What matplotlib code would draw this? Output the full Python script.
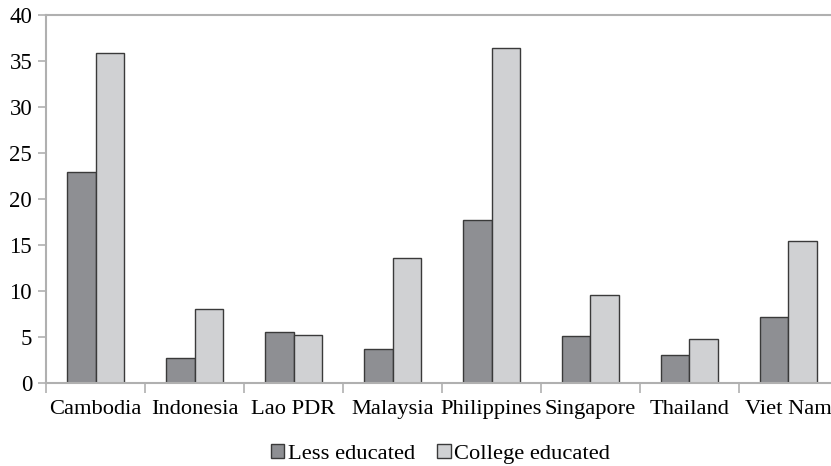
import numpy as np
import matplotlib.pyplot as plt

countries = ['Cambodia', 'Indonesia', 'Lao PDR', 'Malaysia', 'Philippines',
             'Singapore', 'Thailand', 'Viet Nam']
less_educated = [22.9, 2.75, 5.6, 3.7, 17.7, 5.1, 3.0, 7.2]
college_educated = [35.9, 8.1, 5.2, 13.6, 36.4, 9.6, 4.8, 15.4]

plt.rcParams['font.family'] = ['Liberation Serif', 'DejaVu Serif']

fig = plt.figure(figsize=(8.31, 4.66), dpi=100)
ax = fig.add_axes([0.0554, 0.178, 0.953, 0.79])

x = np.arange(len(countries))
w = 0.285
ax.bar(x - w / 2, less_educated, w, color='#8e8f93', edgecolor='#3a3a3a',
       linewidth=1, label='Less educated')
ax.bar(x + w / 2, college_educated, w, color='#d0d1d3', edgecolor='#3a3a3a',
       linewidth=1, label='College educated')

ax.set_xlim(-0.5, len(countries) - 0.5)
ax.set_ylim(0, 40)
ax.set_yticks(range(0, 41, 5))
ax.set_xticks(x)
ax.set_xticklabels(countries)
ax.set_xticks(np.arange(len(countries) + 1) - 0.5, minor=True)

for s in ['left', 'bottom', 'top']:
    ax.spines[s].set_color('#b0b0b0')
    ax.spines[s].set_linewidth(1.5)
ax.spines['right'].set_visible(False)

ax.tick_params(axis='y', colors='#b0b0b0', labelcolor='black', labelsize=16.5,
               length=6, width=1.2, pad=4)
ax.tick_params(axis='x', which='major', length=0, labelsize=16.2, pad=12,
               labelcolor='black')
ax.tick_params(axis='x', which='minor', length=7, width=1.2, colors='#b0b0b0')

fig.legend(loc='center', bbox_to_anchor=(0.53, 0.026), ncol=2, frameon=False,
           fontsize=16.2, handlelength=0.6, handleheight=0.6, handletextpad=0.15,
           columnspacing=1.0)

plt.savefig('out.png', dpi=100)
